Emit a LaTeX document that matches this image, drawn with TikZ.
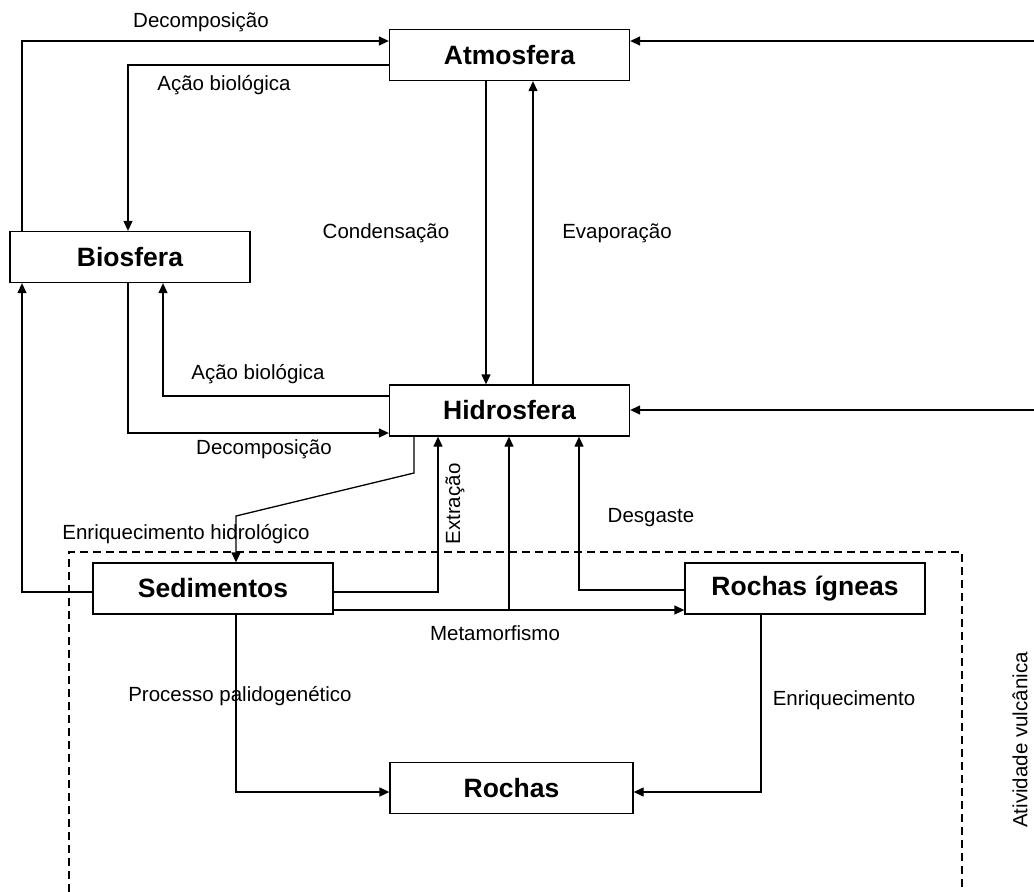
\documentclass[tikz,border=0pt]{standalone}
\usepackage{fontspec}
\setmainfont{Liberation Sans}
\usetikzlibrary{arrows.meta}

\begin{document}
\begin{tikzpicture}[x=1pt, y=-1pt,
    box/.style={draw, line width=1.3pt, minimum width=240pt, minimum height=51pt, inner sep=0pt, font=\fontsize{26.5}{30}\selectfont\bfseries},
    flow/.style={line width=1.3pt, -{Triangle[length=10pt,width=9pt]}},
    lbl/.style={inner sep=0pt, font=\fontsize{20.5}{24}\selectfont}]

\useasboundingbox (0,0) rectangle (1034,892);

\node[box] (atm) at (509.5, 55) {Atmosfera};
\node[box] (bio) at (130, 257) {Biosfera};
\node[box] (hid) at (509.5, 410.5) {Hidrosfera};
\node[box] (sed) at (213, 588.5) {Sedimentos};
\node[box] (ign) at (805, 588.5) {Rochas ígneas};
\node[box, minimum width=243pt] (roc) at (511.5, 788) {Rochas};

\draw[line width=1.3pt, dash pattern=on 8pt off 5pt] (69,892) -- (69,552) -- (962,552) -- (962,892);

\draw[flow] (bio.north -| 22,0) |- (atm.west |- 0,41);
\draw[flow] (atm.west |- 0,65) -| (bio.north -| 128,0);
\draw[flow] (atm.south -| 486,0) -- (hid.north -| 486,0);
\draw[flow] (hid.north -| 533,0) -- (atm.south -| 533,0);

\coordinate (vul1) at (1034,41);
\coordinate (vul2) at (1034,410);
\draw[flow] (vul1) -- (atm.east |- vul1);
\draw[flow] (vul2) -- (hid.east |- vul2);

\draw[flow] (hid.west |- 0,396) -| (bio.south -| 163,0);
\draw[flow] (bio.south -| 128,0) |- (hid.west |- 0,433);
\draw[flow] (sed.west |- 0,592) -| (bio.south -| 22,0);

\draw[flow] (hid.south -| 414,0) -- (414,473) -- (236,516) -- (sed.north -| 236,0);
\draw[flow] (sed.east |- 0,592) -| (hid.south -| 438,0);
\draw[flow] (sed.east |- 0,610) -- (ign.west |- 0,610);
\draw[flow] (509,610) -- (hid.south -| 509,0);
\draw[flow] (ign.west |- 0,590) -| (hid.south -| 579,0);

\draw[flow] (sed.south -| 236,0) |- (roc.west |- 0,792);
\draw[flow] (ign.south -| 761,0) |- (roc.east |- 0,792);

\node[lbl] (decA) at (201, 22) {Decomposição};
\node[lbl] (acaoA) at (224, 85) {Ação biológica};
\node[lbl] (cond) at (386, 233) {Condensação};
\node[lbl] (evap) at (617, 233) {Evaporação};
\node[lbl] (acaoB) at (258, 374) {Ação biológica};
\node[lbl] (decB) at (264, 449) {Decomposição};
\node[lbl] (enrH) at (186, 534) {Enriquecimento hidrológico};
\node[lbl, rotate=90] (extr) at (455, 504) {Extração};
\node[lbl] (desg) at (651, 518) {Desgaste};
\node[lbl] (meta) at (495, 633) {Metamorfismo};
\node[lbl] (proc) at (240, 696) {Processo palidogenético};
\node[lbl] (enr) at (844, 700) {Enriquecimento};
\node[lbl, rotate=90] (vulc) at (1020, 740) {Atividade vulcânica};

\end{tikzpicture}
\end{document}
